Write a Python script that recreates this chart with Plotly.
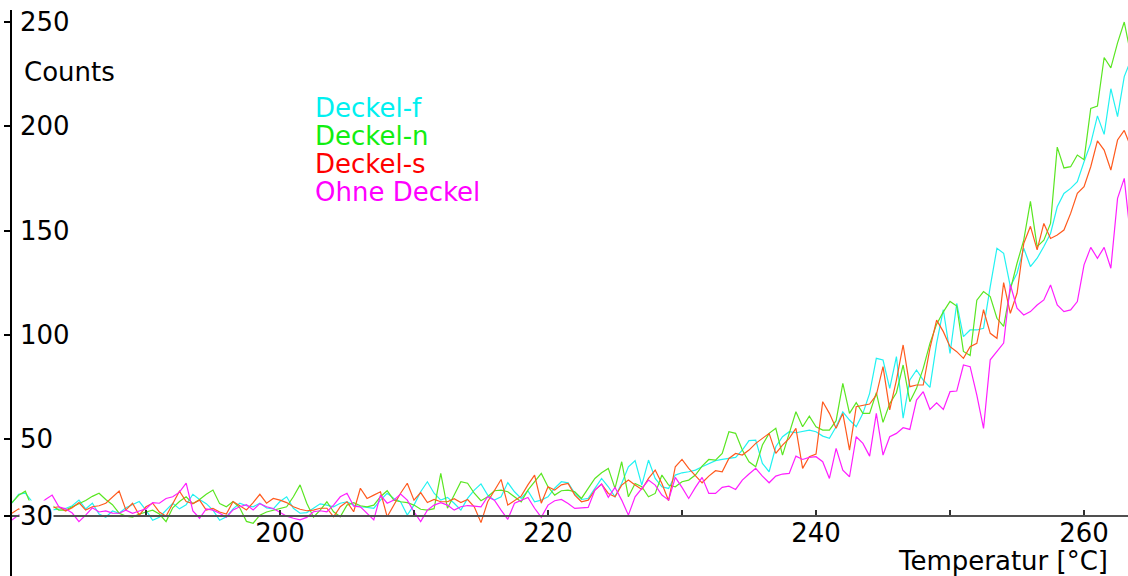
import numpy as np
import plotly.graph_objects as go

# ---------------- data ----------------
temperature = np.arange(180.0, 264.0, 0.5)  # 168 samples, 0.5 degC apart

deckel_f = [
    19.2, 23.5, 24.0, 20, 17, 19, 16, 16.5, 16.7, 18,
    20.7, 16.5, 19.2, 14, 12.5, 15.5, 14.4, 17, 18.5, 20,
    15.9, 11, 12.5, 16, 19.2, 16.5, 18.5, 23.5, 21, 19,
    15.9, 11, 12.7, 16.5, 19.2, 18, 17.5, 19.2, 17, 16.5,
    20, 22.3, 16.8, 14.4, 14.7, 16.8, 18.9, 18.3, 17.5, 19.2,
    19.9, 18.3, 17.5, 17.2, 16.8, 20.7, 24.0, 21.5, 19.9, 13.5,
    18.3, 24.7, 29.5, 24.0, 20.7, 22.0, 19.2, 15.9, 21.5, 25.5,
    28.5, 23.1, 20.7, 22.3, 29.1, 24.7, 21.5, 25.2, 19.9, 20.7,
    22.3, 26.4, 29.5, 29, 23.9, 21.0, 21.5, 26.3, 31.1, 27.1,
    22.3, 28.7, 36.7, 39.6, 27.9, 39.9, 31.1, 27.1, 26.3, 32.7,
    33.8, 34.3, 35.1, 36.7, 38.3, 39.6, 40.2, 40.6, 41.2, 44.7,
    49.2, 49.5, 38.3, 34.3, 46.3, 51.1, 53.5, 53.0, 53.5, 54.3,
    53.5, 51.4, 50.3, 55.9, 63, 59.1, 55.9, 62.3, 71.9, 88.7,
    87.9, 74.3, 89.5, 60, 78.3, 83.1, 78.3, 74.8, 96, 112,
    91, 115, 99.1, 102.3, 102.3, 103.1, 123.1, 141.5, 139.1, 123.1,
    129.5, 141.5, 132.7, 136.7, 142.3, 148.6, 161.4, 167.8, 170.2, 173.4,
    183.0, 191.8, 205, 196.1, 218, 204.6, 223.8, 232,
]

deckel_n = [
    19.5, 23, 25, 17, 19, 16, 18, 15.9, 15.9, 17.5,
    19.2, 20.5, 22.5, 24.0, 21, 18.5, 14.4, 13, 12.5, 14,
    15, 15.9, 14, 10.4, 17, 20, 22.3, 19, 21, 23.5,
    25.5, 19, 17.5, 20, 17, 10.5, 9.6, 13.5, 15, 15.9,
    16.5, 17.5, 22.3, 28, 19.2, 12.5, 15.9, 19.9, 15.1, 12.7,
    18.3, 19.5, 18, 17.5, 18.3, 22.3, 25.2, 20.7, 19.9, 19.5,
    18.3, 16.3, 15.9, 16.6, 33.5, 16.8, 23.1, 29.5, 28.8, 24.0,
    20.4, 22.3, 25.2, 25.5, 24.7, 22.3, 19.9, 25.5, 29.5, 33.5,
    27.1, 23.1, 25.2, 25.5, 24.7, 21.5, 26.3, 31.1, 33.8, 35.9,
    26.3, 39.1, 22.3, 28.7, 27.1, 22.3, 23.9, 32.7, 27.9, 27.1,
    29.5, 30.3, 32.7, 37.0, 40.2, 39.9, 43.1, 53.5, 52.7, 44.7,
    39.1, 36.7, 47.1, 52.7, 55.1, 42.3, 52.7, 63.1, 55.9, 61.0,
    55.9, 54.3, 54.3, 58.8, 76.7, 62.3, 67.4, 62.3, 62.3, 72.2,
    58, 67, 72.2, 85.5, 67.9, 74.3, 83.9, 95.9, 105.1, 111.0,
    116, 113.8, 92, 90, 116.6, 120.7, 118.3, 107.9, 104, 121.5,
    134.3, 145.4, 164, 142.3, 145.4, 153.4, 190, 180, 180.6, 186.2,
    184, 208.6, 209.7, 233, 228, 240, 250, 234,
]

deckel_s = [
    14.4, 16.5, 15.5, 18, 16, 19, 17, 17.5, 15.5, 17,
    19.5, 15.9, 17.5, 18, 19.2, 22, 25, 16, 19.2, 13.5,
    17.5, 19.2, 15, 13, 19.2, 25, 20, 19, 20.7, 15.9,
    16.7, 15, 14, 20, 18, 16, 19.5, 23.5, 19.2, 21.5,
    20.7, 19.5, 17.5, 16.3, 15.6, 15.9, 16.8, 16.8, 12.7, 17.5,
    19.9, 15.1, 26.4, 21.5, 23.1, 24.7, 12.7, 18.3, 24.0, 28.8,
    20.7, 24.3, 19.5, 21.0, 19.9, 19.9, 21.4, 19.5, 21.0, 17.5,
    9.9, 19.9, 25.5, 30.6, 18.3, 20.4, 22.6, 28.0, 32.7, 19.2,
    27.1, 25.5, 28.0, 28.7, 23.1, 19.9, 20.7, 25.5, 28.4, 23.9,
    22.3, 27.9, 30.3, 27.9, 25.8, 31.1, 35.1, 28.7, 20.4, 36.7,
    40.2, 35.9, 32.2, 29.0, 32.2, 34.8, 34.3, 40.7, 43.1, 42.3,
    44.7, 47.9, 50.3, 52.7, 43.1, 47.1, 50.3, 55.1, 35.9, 41.5,
    42.8, 67.9, 62.3, 55.1, 62.3, 44.7, 65.5, 66.3, 66.8, 71.1,
    84.7, 64, 78.3, 95.1, 75.1, 75.9, 75.9, 93.5, 107.0, 101.5,
    94.3, 91.9, 88.7, 94.3, 95.9, 112, 100.7, 98.3, 125, 110.3,
    119.9, 143.8, 152, 140.7, 153.4, 146.2, 147.8, 150.2, 158.2, 167.8,
    171, 180.6, 193, 188.6, 179.0, 193.4, 198, 190,
]

ohne_deckel = [
    11.2, 13.5, 14.4, 16, 18, 21, 23.1, 17.5, 16.5, 14.5,
    10.4, 13.5, 17, 15, 15.5, 14.5, 14.4, 15.9, 14.4, 15.5,
    16.5, 19.5, 19.2, 21.5, 22.3, 24.5, 28.8, 15.5, 12.0, 16.5,
    15.9, 14.4, 12.5, 16, 17.5, 18.5, 16, 19, 17.5, 16.7,
    15, 13, 12.0, 11.2, 12.4, 15.1, 15.6, 15.1, 18.3, 22.3,
    24.0, 17.8, 17.5, 14.4, 11.2, 23.1, 19.2, 20.7, 23.6, 20.7,
    15.1, 10.4, 15.9, 18.3, 19.5, 18.3, 15.9, 17.5, 18.1, 17.8,
    17.5, 22.3, 20.7, 15.9, 11.5, 19.2, 20.7, 22.0, 16.8, 12.4,
    18.3, 20.4, 21.0, 19.1, 16.7, 17.0, 17.2, 25.5, 28.4, 22.0,
    26.8, 20.7, 13.5, 22.3, 26.3, 30.3, 27.9, 23.1, 20.7, 31.6,
    26.8, 21.5, 26.8, 31.6, 23.9, 23.9, 26.8, 27.4, 25.8, 30.3,
    33.2, 35.9, 32.2, 29.0, 32.2, 33.2, 33.5, 41.8, 40.2, 41.2,
    41.5, 39.1, 31.1, 45.5, 35.1, 31.9, 51.1, 47.9, 41.8, 62.3,
    42.3, 51.1, 52.7, 55.4, 54.6, 68.7, 72.7, 64.2, 67.4, 64.2,
    72.7, 73.0, 85.5, 84.7, 71, 55.1, 88, 92, 96, 124,
    112.7, 109.5, 111.1, 114.3, 116.7, 123.9, 114.3, 111.1, 111.9, 115.9,
    133.5, 141.9, 136.7, 141.9, 131.9, 165.4, 175, 145,
]

series_names = ["Deckel-f", "Deckel-n", "Deckel-s", "Ohne Deckel"]
series_values = [deckel_f, deckel_n, deckel_s, ohne_deckel]

ytick_vals = [13.3, 50, 100, 150, 200, 250]
ytick_text = ["30", "50", "100", "150", "200", "250"]
xtick_vals = [190, 200, 210, 220, 230, 240, 250, 260]
xtick_text = ["", "200", "", "220", "", "240", "", "260"]

y_title = "Counts"
x_title = "Temperatur [°C]"

# ---------------- styling ----------------
W, H = 1128, 576
FONT = "DejaVu Sans"
FS = 26
line_colors = ["#22f2f2", "#5ae622", "#ff5a1e", "#ff1eff"]
label_colors = ["#00f0f0", "#11ee11", "#ff0000", "#ff00ff"]

x_left_px = 11
x_axis_px = 515.5
top_px = 10

fig = go.Figure()
for name, vals, col in zip(series_names, series_values, line_colors):
    fig.add_trace(go.Scatter(x=temperature, y=vals, mode="lines", name=name,
                             line=dict(color=col, width=1.2), showlegend=False,
                             hoverinfo="skip"))

annotations = []
# y tick labels (white background hides the lines behind them)
for v, t in zip(ytick_vals, ytick_text):
    annotations.append(dict(x=19 / W, xref="paper", y=v, yref="y", text=t,
                            showarrow=False, xanchor="left", yanchor="middle",
                            bgcolor="white", borderpad=0,
                            font=dict(family=FONT, size=FS, color="black")))
# axis titles
annotations.append(dict(x=22 / W, xref="paper", y=(H - 72) / H, yref="paper",
                        text=y_title, showarrow=False, xanchor="left", yanchor="middle",
                        font=dict(family=FONT, size=FS, color="black")))
annotations.append(dict(x=1110 / W, xref="paper", y=(H - 561) / H, yref="paper",
                        text=x_title, showarrow=False, xanchor="right", yanchor="middle",
                        font=dict(family=FONT, size=FS, color="black")))
# legend as coloured text
for k, (name, col) in enumerate(zip(series_names, label_colors)):
    annotations.append(dict(x=313 / W, xref="paper", y=(H - (108 + 28 * k)) / H,
                            yref="paper", text=name, showarrow=False,
                            xanchor="left", yanchor="middle",
                            font=dict(family=FONT, size=FS, color=col)))

fig.update_layout(
    width=W, height=H,
    margin=dict(l=0, r=0, t=0, b=0),
    paper_bgcolor="white", plot_bgcolor="white",
    showlegend=False,
    xaxis=dict(range=[179.93, 263.28], domain=[x_left_px / W, 1],
               anchor="free", position=(H - x_axis_px) / H,
               showline=True, linecolor="#505050", linewidth=1.5,
               ticks="inside", ticklen=5, tickwidth=1.5, tickcolor="#303030",
               tickvals=xtick_vals, ticktext=xtick_text,
               ticklabelstandoff=-5,
               tickfont=dict(family=FONT, size=FS, color="black"),
               showgrid=False, zeroline=False),
    yaxis=dict(range=[-15.7, 255.76], domain=[0, (H - top_px) / H],
               anchor="free", position=x_left_px / W,
               showline=True, linecolor="black", linewidth=1.5,
               ticks="outside", ticklen=6, tickwidth=1.5, tickcolor="black",
               tickvals=ytick_vals, showticklabels=False,
               showgrid=False, zeroline=False),
    annotations=annotations,
)

fig.write_html("out.html")
